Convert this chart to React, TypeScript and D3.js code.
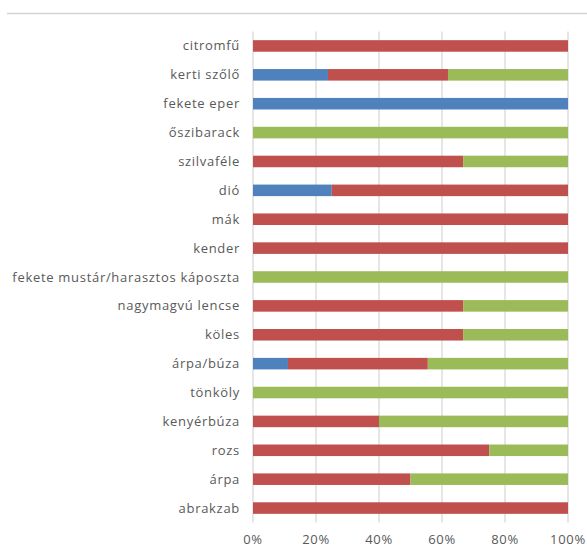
import React from "react";
import * as d3 from "d3";

const categories = [
  "citromfű",
  "kerti szőlő",
  "fekete eper",
  "őszibarack",
  "szilvaféle",
  "dió",
  "mák",
  "kender",
  "fekete mustár/harasztos káposzta",
  "nagymagvú lencse",
  "köles",
  "árpa/búza",
  "tönköly",
  "kenyérbúza",
  "rozs",
  "árpa",
  "abrakzab",
];

const blueValues = [0, 23.8, 100, 0, 0, 25, 0, 0, 0, 0, 0, 11.1, 0, 0, 0, 0, 0];
const redValues = [100, 38.1, 0, 0, 66.7, 75, 100, 100, 0, 66.7, 66.7, 44.4, 0, 40, 75, 50, 100];
const greenValues = [0, 38.1, 0, 100, 33.3, 0, 0, 0, 100, 33.3, 33.3, 44.5, 100, 60, 25, 50, 0];

const seriesKeys = ["blue", "red", "green"];
const seriesColors = ["#4F81BD", "#C0504D", "#9BBB59"];
const xTicks = [0, 0.2, 0.4, 0.6, 0.8, 1];

const W = 587;
const H = 547;
const plot = { left: 253, right: 568, top: 31.5, bottom: 522.5 };
const FONT = "'Open Sans', sans-serif";

export default function App() {
  const rows = categories.map((c, i) => {
    const total = blueValues[i] + redValues[i] + greenValues[i];
    return {
      cat: c,
      blue: blueValues[i] / total,
      red: redValues[i] / total,
      green: greenValues[i] / total,
    };
  });
  const stack = d3.stack<any>().keys(seriesKeys)(rows);
  const x = d3.scaleLinear().domain([0, 1]).range([plot.left, plot.right]);
  const y = d3
    .scaleBand()
    .domain(categories)
    .range([plot.top, plot.bottom])
    .paddingInner(0.6)
    .paddingOuter(0.3);
  const fmt = d3.format(".0%");

  return (
    <svg
      width={W}
      height={H}
      style={{ position: "absolute", left: 0, top: 0, background: "#fff" }}
    >
      <line x1={7} x2={587} y1={13.5} y2={13.5} stroke="#d4d4d4" strokeWidth={1.5} />
      {xTicks.map((t) => (
        <line
          key={"g" + t}
          x1={x(t)}
          x2={x(t)}
          y1={plot.top}
          y2={plot.bottom}
          stroke="#d9d9d9"
          strokeWidth={1.3}
        />
      ))}
      {stack.map((s, si) => (
        <g key={s.key} fill={seriesColors[si]}>
          {s.map((d, i) =>
            d[1] - d[0] > 0 ? (
              <rect
                key={i}
                x={x(d[0])}
                width={x(d[1]) - x(d[0])}
                y={y(categories[i])}
                height={y.bandwidth()}
              />
            ) : null
          )}
        </g>
      ))}
      {categories.map((c) => (
        <text
          key={c}
          x={240}
          y={(y(c) as number) + y.bandwidth() / 2}
          dy="0.35em"
          textAnchor="end"
          fontFamily={FONT}
          fontSize={13}
          letterSpacing={0.7}
          fill="#595959"
        >
          {c}
        </text>
      ))}
      {xTicks.map((t) => (
        <text
          key={"t" + t}
          x={x(t)}
          y={539}
          dy="0.35em"
          textAnchor="middle"
          fontFamily={FONT}
          fontSize={13}
          letterSpacing={0.7}
          fill="#595959"
        >
          {fmt(t)}
        </text>
      ))}
    </svg>
  );
}
